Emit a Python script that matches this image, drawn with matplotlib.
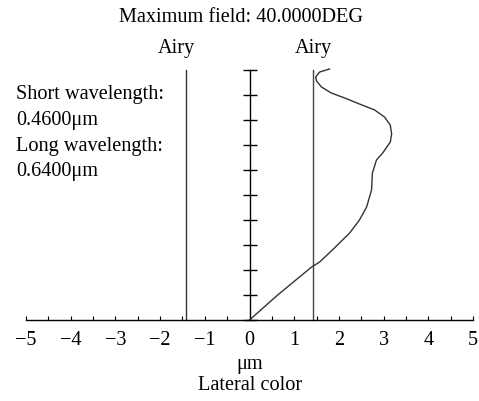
import numpy as np
import matplotlib
matplotlib.use("Agg")
import matplotlib.pyplot as plt

plt.rcParams['font.family'] = ['Liberation Serif', 'DejaVu Serif']

# lateral color curve (um) vs normalized field
field = [0.0, 0.10, 0.212, 0.232, 0.288, 0.348, 0.40, 0.452, 0.52, 0.588,
         0.64, 0.668, 0.712, 0.744, 0.78, 0.812, 0.84, 0.864, 0.888, 0.908,
         0.932, 0.956, 0.972, 0.992, 1.004]
lat_color = [0.0, 0.63, 1.39, 1.57, 1.90, 2.24, 2.46, 2.62, 2.73, 2.75,
             2.84, 2.98, 3.15, 3.18, 3.15, 3.02, 2.80, 2.46, 2.13, 1.83,
             1.61, 1.50, 1.48, 1.57, 1.79]
airy = 1.41
field_ticks = np.linspace(0, 1, 11)
x_major = np.arange(-5, 6, 1)
x_minor = np.arange(-5, 5.5, 0.5)

FS = 14.6
W, H = 479, 401
fig = plt.figure(figsize=(W / 100, H / 100), dpi=100)
ax = fig.add_axes([26 / W, 1 - 320 / H, (473 - 26) / W, 250 / H])
ax.set_xlim(-5, 5)
ax.set_ylim(0, 1)
for s in ['top', 'right', 'left']:
    ax.spines[s].set_visible(False)
ax.spines['bottom'].set_linewidth(1.0)
ax.set_yticks([])
ax.set_xticks(x_major)
ax.set_xticks(x_minor, minor=True)
ax.set_xticklabels([str(v).replace('-', '\u2212') for v in x_major], fontsize=FS)
ax.tick_params(axis='x', which='both', direction='in', length=3, width=0.8, pad=8)

# center axis with field ticks
ax.plot([0, 0], [0, 1], color='black', lw=1.0, clip_on=False)
ax.plot(np.zeros(len(field_ticks)), field_ticks, ls='none', marker='_',
        markersize=10, mew=1.0, color='black', clip_on=False)

# airy disk lines
ax.plot([-airy, -airy], [0, 1.0], color='#333333', lw=1.0, clip_on=False)
ax.plot([airy, airy], [0, 1.0], color='#444444', lw=1.0, clip_on=False)

ax.plot(lat_color, field, color='#333333', lw=1.0, clip_on=False)

fig.text(241 / W, 1 - 18 / H, 'Maximum field: 40.0000DEG', ha='center', va='center', fontsize=FS)
fig.text(176 / W, 1 - 48 / H, 'Airy', ha='center', va='center', fontsize=FS)
fig.text(313 / W, 1 - 48 / H, 'Airy', ha='center', va='center', fontsize=FS)
for i, t in enumerate(['Short wavelength:', '0.4600\u03bcm', 'Long wavelength:', '0.6400\u03bcm']):
    fig.text(16 / W, 1 - (95 + 25.5 * i) / H, t, ha='left', va='center', fontsize=FS)
fig.text(250 / W, 1 - 365 / H, '\u03bcm', ha='center', va='center', fontsize=FS)
fig.text(250 / W, 1 - 386 / H, 'Lateral color', ha='center', va='center', fontsize=FS)

fig.savefig('out.png', dpi=100)
